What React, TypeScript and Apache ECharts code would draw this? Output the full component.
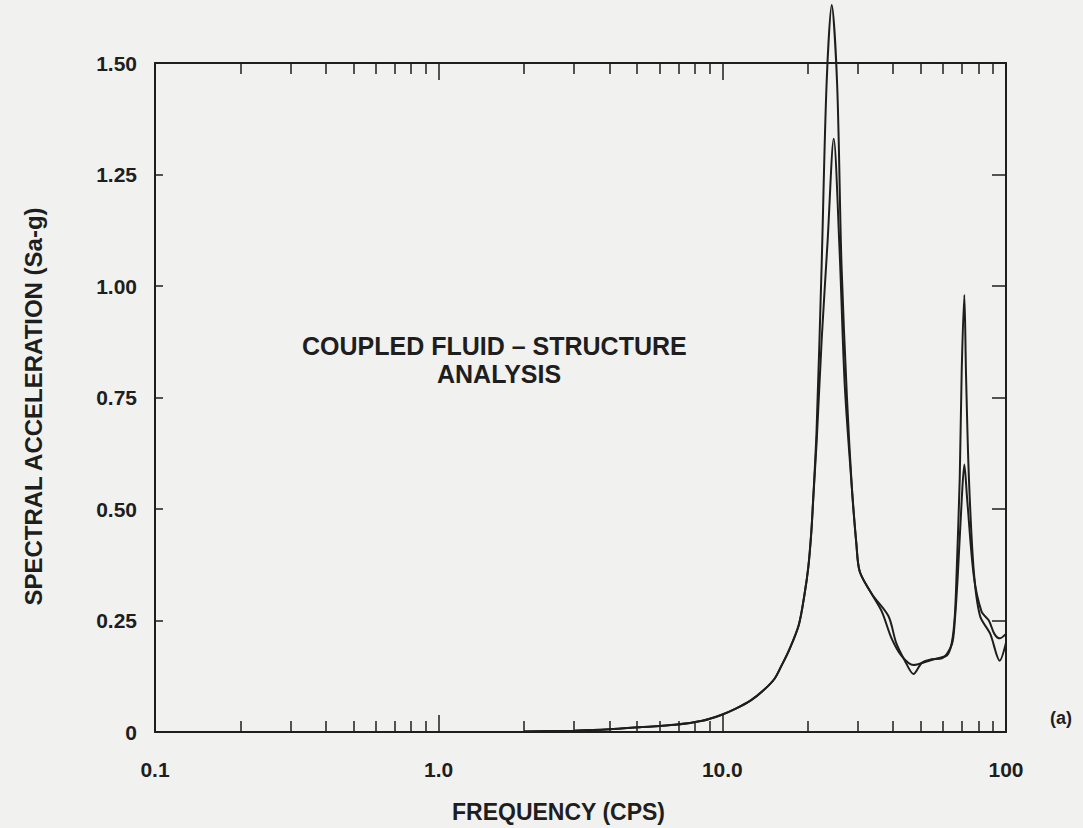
import React, { useEffect, useRef } from "react";
import * as echarts from "echarts";

// ---- data ----
const curveAFreq = [2.0, 3.0, 4.0, 5.2, 6.8, 8.5, 9.9, 11.2, 12.6, 14.0, 15.3, 16.2, 17.1, 18.6, 19.5, 20.1, 20.6, 20.9, 21.5, 22.4, 23.3, 24.3, 25.4, 26.3, 27.5, 28.6, 29.7, 30.5, 33.6, 36.5, 39.5, 42.9, 47.2, 52.5, 57.0, 62.0, 64.4, 66.0, 67.0, 68.7, 69.8, 71.3, 72.3, 74.0, 77.0, 81.0, 88.0, 95.0, 100.0];
const curveAVal = [0.001, 0.003, 0.006, 0.011, 0.016, 0.025, 0.038, 0.053, 0.071, 0.094, 0.12, 0.15, 0.18, 0.24, 0.31, 0.37, 0.45, 0.52, 0.68, 1.05, 1.45, 1.63, 1.45, 1.05, 0.75, 0.55, 0.42, 0.36, 0.31, 0.27, 0.21, 0.17, 0.15, 0.158, 0.165, 0.172, 0.2, 0.26, 0.36, 0.57, 0.81, 0.98, 0.8, 0.57, 0.36, 0.26, 0.22, 0.16, 0.2];

const curveBFreq = [2.0, 3.0, 4.0, 5.2, 6.8, 8.5, 9.9, 11.2, 12.6, 14.0, 15.3, 16.2, 17.1, 18.6, 19.5, 20.1, 20.6, 20.9, 21.5, 22.4, 23.5, 24.7, 25.9, 27.0, 28.6, 29.7, 30.5, 33.6, 38.5, 41.0, 44.0, 47.2, 50.5, 54.7, 59.4, 64.4, 66.0, 67.6, 69.8, 71.3, 73.0, 77.0, 82.0, 87.0, 91.0, 95.0, 100.0];
const curveBVal = [0.001, 0.003, 0.006, 0.011, 0.016, 0.025, 0.038, 0.053, 0.071, 0.094, 0.12, 0.15, 0.18, 0.24, 0.31, 0.37, 0.45, 0.52, 0.65, 0.88, 1.1, 1.33, 1.08, 0.78, 0.55, 0.42, 0.36, 0.31, 0.26, 0.2, 0.16, 0.13, 0.155, 0.163, 0.165, 0.196, 0.25, 0.35, 0.52, 0.6, 0.52, 0.35, 0.27, 0.25, 0.22, 0.21, 0.22];

const xMajorTicks = [0.1, 1, 10, 100];
const xTickLabels = ["0.1", "1.0", "10.0", "100"];
const xMinorTicks = [0.2, 0.3, 0.4, 0.5, 0.6, 0.7, 0.8, 0.9, 2, 3, 4, 5, 6, 7, 8, 9, 20, 30, 40, 50, 60, 70, 80, 90];
const yTickLabels = ["0", "0.25", "0.50", "0.75", "1.00", "1.25", "1.50"];

const xTitle = "FREQUENCY (CPS)";
const yTitle = "SPECTRAL ACCELERATION (Sa-g)";
const noteLine1 = "COUPLED FLUID \u2013 STRUCTURE";
const noteLine2 = "ANALYSIS";
const panelTag = "(a)";

const INK = "#1e1e1e";
const FONT = "'Liberation Sans', Arial, Helvetica, sans-serif";

function pairs(f: number[], v: number[]) {
  return f.map((x, i) => [x, v[i]]);
}

export default function App() {
  const ref = useRef<HTMLDivElement>(null);
  useEffect(() => {
    if (!ref.current) return;
    const chart = echarts.init(ref.current, null, { renderer: "svg" });
    const baseX = {
      type: "log" as const,
      logBase: 10,
      min: 0.1,
      max: 100,
      gridIndex: 0,
      splitLine: { show: false },
      minorTick: { show: false },
    };
    const lineSeries = (name: string, data: number[][]) => ({
      name,
      type: "line",
      data,
      xAxisIndex: 0,
      yAxisIndex: 0,
      showSymbol: false,
      symbol: "none",
      smooth: 0.3,
      clip: false,
      lineStyle: { color: INK, width: 2 },
    });
    chart.setOption({
      animation: false,
      backgroundColor: "#f1f1ef",
      textStyle: { fontFamily: FONT, color: INK },
      grid: { left: 155, right: 77, top: 63, bottom: 93, containLabel: false },
      xAxis: [
        {
          ...baseX,
          position: "bottom",
          axisLine: { show: true, lineStyle: { color: INK, width: 2 } },
          axisTick: { show: true, inside: true, length: 17, customValues: xMajorTicks, lineStyle: { color: INK, width: 1.5 } },
          axisLabel: {
            show: true,
            customValues: xMajorTicks,
            margin: 27,
            fontSize: 21,
            fontWeight: "bold",
            color: INK,
            fontFamily: FONT,
            formatter: (v: number) => {
              const i = xMajorTicks.findIndex((t) => Math.abs(t - v) / t < 1e-6);
              return i >= 0 ? xTickLabels[i] : "";
            },
          },
          name: xTitle,
          nameLocation: "middle",
          nameGap: 68,
          nameTextStyle: { fontSize: 23, fontWeight: "bold", color: INK, fontFamily: FONT, padding: [0, 44, 0, 0] },
        },
        {
          ...baseX,
          position: "bottom",
          axisLine: { show: false },
          axisTick: { show: true, inside: true, length: 11, customValues: xMinorTicks, lineStyle: { color: INK, width: 1.5 } },
          axisLabel: { show: false },
        },
        {
          ...baseX,
          position: "top",
          axisLine: { show: true, lineStyle: { color: INK, width: 2 } },
          axisTick: { show: true, inside: true, length: 17, customValues: xMajorTicks, lineStyle: { color: INK, width: 1.5 } },
          axisLabel: { show: false },
        },
        {
          ...baseX,
          position: "top",
          axisLine: { show: false },
          axisTick: { show: true, inside: true, length: 11, customValues: xMinorTicks, lineStyle: { color: INK, width: 1.5 } },
          axisLabel: { show: false },
        },
      ],
      yAxis: [
        {
          type: "value",
          min: 0,
          max: 1.5,
          interval: 0.25,
          position: "left",
          splitLine: { show: false },
          axisLine: { show: true, lineStyle: { color: INK, width: 2 } },
          axisTick: { show: true, inside: true, length: 8, lineStyle: { color: INK, width: 1.5 } },
          axisLabel: {
            margin: 18,
            fontSize: 21,
            fontWeight: "bold",
            color: INK,
            fontFamily: FONT,
            formatter: (v: number) => yTickLabels[Math.round(v / 0.25)] ?? "",
          },
          name: yTitle,
          nameLocation: "middle",
          nameGap: 110,
          nameRotate: 90,
          nameTextStyle: { fontSize: 24, fontWeight: "bold", color: INK, fontFamily: FONT, padding: [0, 18, 0, 0] },
        },
        {
          type: "value",
          min: 0,
          max: 1.5,
          interval: 0.25,
          position: "right",
          splitLine: { show: false },
          axisLine: { show: true, lineStyle: { color: INK, width: 2 } },
          axisTick: { show: true, inside: true, length: 14, lineStyle: { color: INK, width: 1.5 } },
          axisLabel: { show: false },
        },
      ],
      graphic: [
        { type: "text", left: 302, top: 333, style: { text: noteLine1, fontSize: 25, fontWeight: "bold", fill: INK, fontFamily: FONT } },
        { type: "text", left: 437, top: 361, style: { text: noteLine2, fontSize: 25, fontWeight: "bold", fill: INK, fontFamily: FONT } },
        { type: "text", left: 1050, top: 709, style: { text: panelTag, fontSize: 18, fontWeight: "bold", fill: INK, fontFamily: FONT } },
      ],
      series: [lineSeries("A", pairs(curveAFreq, curveAVal)), lineSeries("B", pairs(curveBFreq, curveBVal))],
    });
    return () => chart.dispose();
  }, []);
  return <div ref={ref} style={{ position: "absolute", left: 0, top: 0, width: 1083, height: 828 }} />;
}
